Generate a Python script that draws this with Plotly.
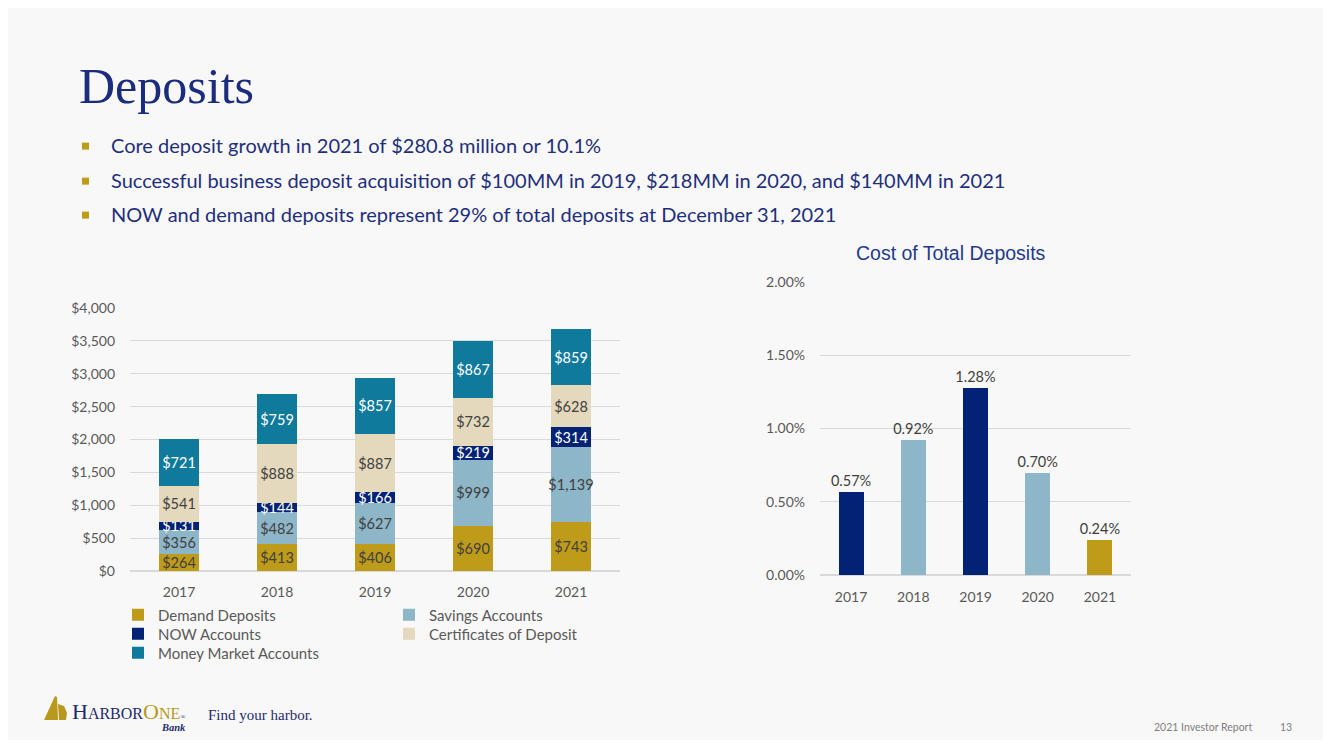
import plotly.graph_objects as go

# page body has an 8px margin: keep the figure inside the viewport
OFF = 8
W, H = 1331 - 2 * OFF, 748 - 2 * OFF
SY, OY = 0.977, 9.0   # observed vertical mapping of the capture
def px(x): return (x - OFF) / W
def py(y):
    yc = (y - OY) / SY
    return 1 - (yc - OFF) / H

years = ["2017", "2018", "2019", "2020", "2021"]
demand = [264, 413, 406, 690, 743]
savings = [356, 482, 627, 999, 1139]
now_acc = [131, 144, 166, 219, 314]
cds = [541, 888, 887, 732, 628]
money_mkt = [721, 759, 857, 867, 859]

cost_pct = [0.57, 0.92, 1.28, 0.70, 0.24]
cost_colors = ["#022375", "#8db6c8", "#022375", "#8db6c8", "#bf9b1a"]

series = [
    ("Demand Deposits", demand, "#bf9b1a", "#404040", "legend"),
    ("Savings Accounts", savings, "#8db6c8", "#404040", "legend2"),
    ("NOW Accounts", now_acc, "#022375", "#ffffff", "legend3"),
    ("Certificates of Deposit", cds, "#e4d9bc", "#404040", "legend4"),
    ("Money Market Accounts", money_mkt, "#0f7a9c", "#ffffff", "legend5"),
]

FONT = "Lato"
fig = go.Figure()
for name, vals, col, tcol, lg in series:
    fig.add_trace(go.Bar(
        x=years, y=vals, name=name, marker_color=col, marker_line_width=0,
        text=["${:,}".format(v) for v in vals], textposition="inside",
        insidetextanchor="middle", textangle=0, constraintext="none",
        textfont=dict(family=FONT, size=14.5, color=tcol),
        xaxis="x", yaxis="y", legend=lg, hoverinfo="skip",
    ))

fig.add_trace(go.Bar(
    x=years, y=cost_pct, marker_color=cost_colors, marker_line_width=0,
    text=["{:.2f}%".format(v) for v in cost_pct], textposition="outside",
    textangle=0, constraintext="none", cliponaxis=False,
    textfont=dict(family=FONT, size=14.5, color="#404040"),
    xaxis="x2", yaxis="y2", showlegend=False, hoverinfo="skip",
))

tickfont = dict(family=FONT, size=14, color="#595959")
grid = "#d9d9d9"

legend_common = dict(bgcolor="rgba(0,0,0,0)", borderwidth=0, xanchor="left",
                     yanchor="middle", itemwidth=30,
                     font=dict(family=FONT, size=15, color="#595959"))
leg_pos = {
    "legend": (118, 615), "legend2": (389, 615), "legend3": (118, 634),
    "legend4": (389, 634), "legend5": (118, 653),
}
legends = {k: dict(legend_common, x=px(x), y=py(y)) for k, (x, y) in leg_pos.items()}

fig.update_layout(
    width=W, height=H, margin=dict(l=0, r=0, t=0, b=0),
    paper_bgcolor="#f8f8f8", plot_bgcolor="rgba(0,0,0,0)",
    barmode="stack", bargap=0.6, uniformtext=dict(minsize=14, mode="show"),
    xaxis=dict(domain=[px(130), px(620)], anchor="y", tickfont=tickfont,
               showgrid=False, showline=False, ticks="", ticklabelstandoff=11),
    yaxis=dict(domain=[py(571), py(308)], anchor="x", range=[0, 4000], dtick=500,
               tickprefix="$", tickformat=",d", tickfont=tickfont, gridcolor=grid,
               zeroline=True, zerolinecolor=grid, showline=False, ticks="",
               ticklabelstandoff=14),
    xaxis2=dict(domain=[px(820), px(1131)], anchor="y2", tickfont=tickfont,
                showgrid=False, showline=False, ticks="", ticklabelstandoff=12),
    yaxis2=dict(domain=[py(575), py(282)], anchor="x2", range=[0, 2.0], dtick=0.5,
                tickformat=".2f", ticksuffix="%", tickfont=tickfont, gridcolor=grid,
                zeroline=True, zerolinecolor=grid, showline=False, ticks="",
                ticklabelstandoff=14),
    **legends,
)

navy = "#1b2b7e"
annotations = [
    dict(text="Deposits", x=px(77), y=py(86), xanchor="left", yanchor="middle",
         font=dict(family="Liberation Serif", size=50, color=navy)),
    dict(text="Cost of Total Deposits", x=px(951), y=py(253), xanchor="center",
         yanchor="middle", font=dict(family="Liberation Sans", size=19.5, color="#1f3a8f")),
    dict(text="2021 Investor Report", x=px(1152), y=py(727), xanchor="left",
         yanchor="middle", font=dict(family=FONT, size=10.5, color="#7f7f7f")),
    dict(text="13", x=px(1278), y=py(727), xanchor="left", yanchor="middle",
         font=dict(family=FONT, size=10.5, color="#7f7f7f")),
    dict(text="Find your harbor.", x=px(206), y=py(715), xanchor="left", yanchor="middle",
         font=dict(family="Liberation Serif", size=15, color="#1f2a6b")),
    dict(text="H<span style='font-size:16px'>ARBOR</span><span style='color:#b8981e'>O<span style='font-size:16px'>NE</span></span><span style='font-size:7px'>®</span>",
         x=px(70), y=py(711), xanchor="left", yanchor="middle",
         font=dict(family="Liberation Serif", size=22, color="#1f2a6b")),
    dict(text="<i><b>Bank</b></i>", x=px(159), y=py(727), xanchor="left", yanchor="middle",
         font=dict(family="Liberation Serif", size=10.5, color="#1f2a6b")),
]
bullets = [
    (146, "Core deposit growth in 2021 of $280.8 million or 10.1%"),
    (181, "Successful business deposit acquisition of $100MM in 2019, $218MM in 2020, and $140MM in 2021"),
    (215, "NOW and demand deposits represent 29% of total deposits at December 31, 2021"),
]
shapes = []
for yy, txt in bullets:
    annotations.append(dict(text=txt, x=px(109), y=py(yy - 1), xanchor="left", yanchor="middle",
                            font=dict(family=FONT, size=20, color="#1f2f7d")))
    shapes.append(dict(type="rect", xref="paper", yref="paper", x0=px(82), x1=px(89),
                       y0=py(yy + 3.5), y1=py(yy - 3.5), fillcolor="#bf9b1a", line_width=0))

for a in annotations:
    a.update(xref="paper", yref="paper", showarrow=False)

def path(pts):
    return "M " + " L ".join("{:.5f},{:.5f}".format(px(x), py(y)) for x, y in pts) + " Z"
shapes.append(dict(type="path", xref="paper", yref="paper",
                   path=path([(44, 720), (55, 696), (57, 697), (58, 720)]),
                   fillcolor="#b8981e", line_width=0))
shapes.append(dict(type="path", xref="paper", yref="paper",
                   path=path([(58, 704), (64, 706), (67, 713), (66, 720), (59, 720)]),
                   fillcolor="#b8981e", line_width=0))

fig.update_layout(annotations=annotations, shapes=shapes)
fig.write_html("out.html")
